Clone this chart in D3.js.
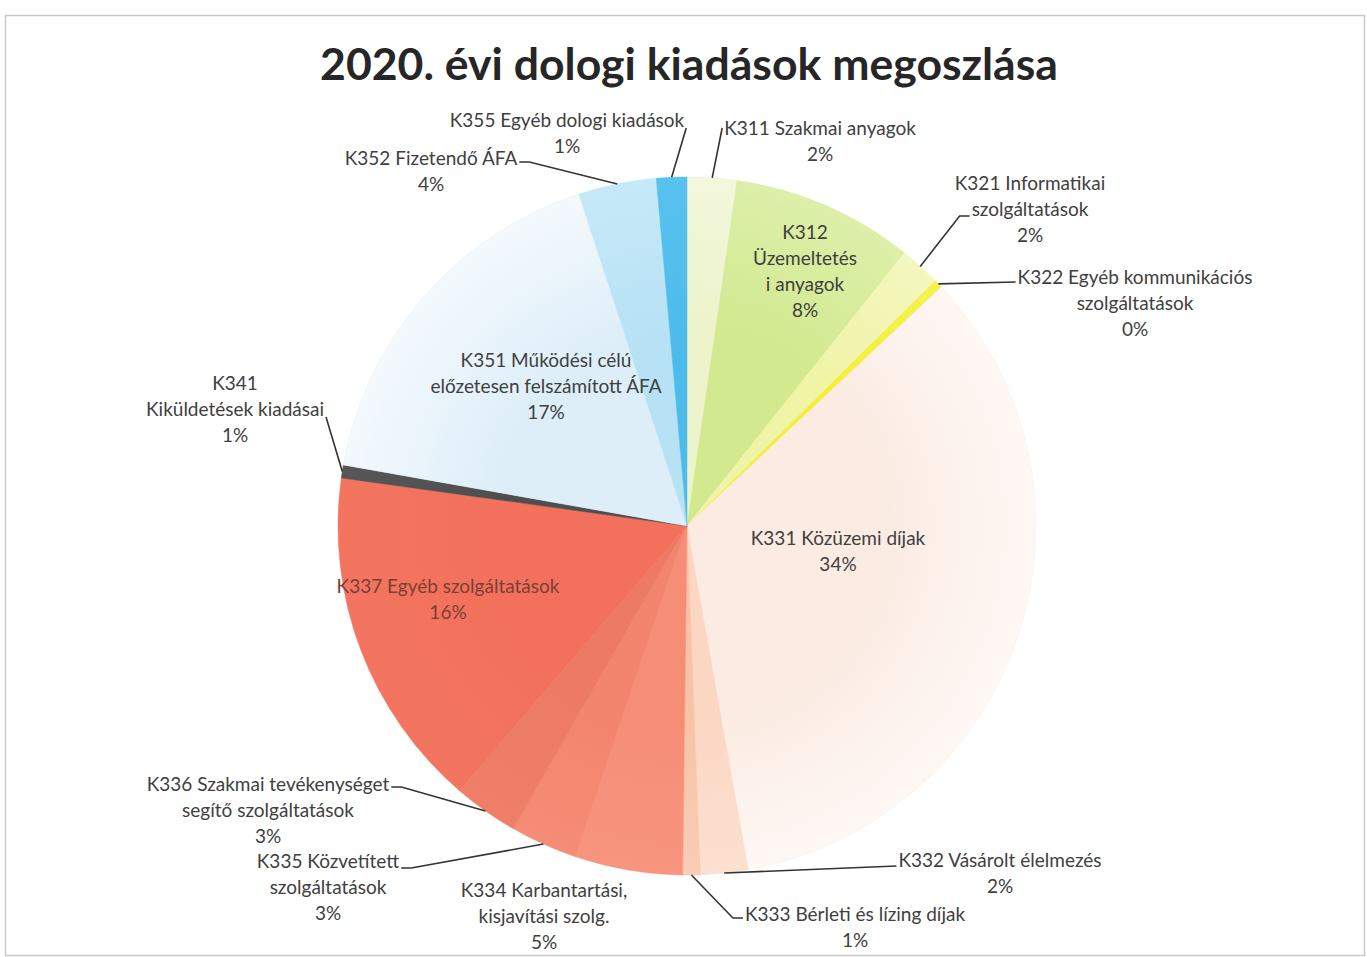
<!DOCTYPE html>
<html><head><meta charset="utf-8">
<script src="https://cdn.jsdelivr.net/npm/d3@7"></script>
<style>
body{margin:0;background:#fff}
svg{display:block}
text{font-family:Lato,"Open Sans",sans-serif}
</style>
</head><body>
<svg id="chart" width="1367" height="957"></svg>
<script>
// ---- data ----
const title = "2020. évi dologi kiadások megoszlása";
const categories = [
  "K311 Szakmai anyagok",
  "K312\nÜzemeltetés\ni anyagok",
  "K321 Informatikai\nszolgáltatások",
  "K322 Egyéb kommunikációs\nszolgáltatások",
  "K331 Közüzemi díjak",
  "K332 Vásárolt élelmezés",
  "K333 Bérleti és lízing díjak",
  "K334 Karbantartási,\nkisjavítási szolg.",
  "K335 Közvetített\nszolgáltatások",
  "K336 Szakmai tevékenységet\nsegítő szolgáltatások",
  "K337 Egyéb szolgáltatások",
  "K341\nKiküldetések kiadásai",
  "K351 Működési célú\nelőzetesen felszámított ÁFA",
  "K352 Fizetendő ÁFA",
  "K355 Egyéb dologi kiadások"
];
const shares = [2.3, 8.4, 1.9, 0.4, 34.2, 2.2, 0.8, 5.0, 3.1, 3.0, 15.9, 0.6, 17.2, 3.6, 1.4];

// ---- styles / layout ----
// [inner colour, outer colour] for a soft radial shading like the original
const colors = [["#EDF3CB","#F3F7DC"],["#D2E98F","#DDEFA9"],["#F0F4A6","#F4F7BE"],["#F3EF38","#F5F250"],
  ["#FBEBE2","#FEF8F5"],["#FBD7C3","#FCE0D0"],["#F8C2A6","#F9CDB6"],
  ["#F68D76","#F7957F"],["#F3846D","#F58C75"],["#EC7A64","#EF7F69"],["#F2705C","#F3755F"],
  ["#4E4E4E","#575757"],["#DDEEF9","#F4F9FD"],["#B7E2F5","#C6E9F8"],["#4DBCEB","#58C2EE"]];
const cx = 687, cy = 526, R = 349, lineH = 26, fontSize = 19;
// label anchor (first line centre) relative to pie centre
const labelOffset = [[133,-398],[118,-294],[343,-343],[448,-249],[151,12],[313,334],[168,388],
  [-143,364],[-359,335],[-419,258],[-239,60],[-452,-143],[-141,-166],[-256,-368],[-120,-406]];
// leader rule: side of text to attach, line index, vertical offset, horizontal stub
const leader = [
  {side:"L",line:0,dy:0,stub:0}, null,
  {side:"L",line:1,dy:7,stub:10}, {side:"L",line:0,dy:5,stub:0},
  null, {side:"L",line:0,dy:6,stub:0}, {side:"L",line:0,dy:4,stub:10},
  null, {side:"R",line:0,dy:7,stub:10}, {side:"R",line:0,dy:3,stub:10},
  null, {side:"R",line:1,dy:8,stub:0}, null,
  {side:"R",line:0,dy:4,stub:10}, {side:"R",line:0,dy:8,stub:0}
];
const textColor = ["#404040","#404040","#404040","#404040","#404040","#404040","#404040",
  "#404040","#404040","#404040","#7a4034","#404040","#404040","#404040","#404040"];

const svg = d3.select("#chart");
svg.append("rect").attr("x",5.5).attr("y",15.5).attr("width",1359).attr("height",940)
  .attr("fill","none").attr("stroke","#c9c9c9").attr("stroke-width",1.5);

// gradients
const defs = svg.append("defs");
colors.forEach((c,i)=>{
  const gr = defs.append("radialGradient").attr("id","g"+i)
    .attr("gradientUnits","userSpaceOnUse").attr("cx",0).attr("cy",0).attr("r",R);
  gr.append("stop").attr("offset","0%").attr("stop-color",c[0]);
  gr.append("stop").attr("offset","55%").attr("stop-color",c[0]);
  gr.append("stop").attr("offset","100%").attr("stop-color",c[1]);
});

// title
const t = svg.append("text").attr("x",689).attr("y",80).attr("text-anchor","middle")
  .attr("font-weight","bold").attr("font-size",44).attr("fill","#262626").text(title);
const tw = t.node().getComputedTextLength();
t.attr("font-size", 44*738/tw);

const pie = d3.pie().sort(null).value(d=>d).startAngle(0).endAngle(2*Math.PI);
const arcs = pie(shares);
const arc = d3.arc().innerRadius(0).outerRadius(R);
const edgeArc = d3.arc().innerRadius(R).outerRadius(R);

const g = svg.append("g").attr("transform",`translate(${cx},${cy})`);
g.selectAll("path.slice").data(arcs).join("path").attr("class","slice")
  .attr("d",arc).attr("fill",(d,i)=>`url(#g${i})`)
  .attr("stroke",(d,i)=>colors[i][0]).attr("stroke-width",0.5);

const total = d3.sum(shares);
const lg = g.append("g");
arcs.forEach((d,i)=>{
  const lines = categories[i].split("\n").concat([Math.round(d.value/total*100)+"%"]);
  const [ax, ay] = labelOffset[i];
  const txt = lg.append("text").attr("text-anchor","middle").attr("font-size",fontSize)
    .attr("fill",textColor[i]);
  const spans = lines.map((s,k)=> txt.append("tspan").attr("x",ax).attr("y",ay+k*lineH)
      .attr("dy","0.35em").text(s));
  const rule = leader[i];
  if(rule){
    const w = spans[rule.line].node().getComputedTextLength();
    const y0 = ay + rule.line*lineH + rule.dy;
    const x0 = rule.side==="R" ? ax + w/2 + 2 : ax - w/2 - 2;
    const x1 = rule.side==="R" ? x0 + rule.stub : x0 - rule.stub;
    const e = edgeArc.centroid(d);
    lg.append("path").attr("d", d3.line()([[x0,y0],[x1,y0],e]))
      .attr("fill","none").attr("stroke","#333").attr("stroke-width",1.6);
  }
});
</script>
</body></html>
